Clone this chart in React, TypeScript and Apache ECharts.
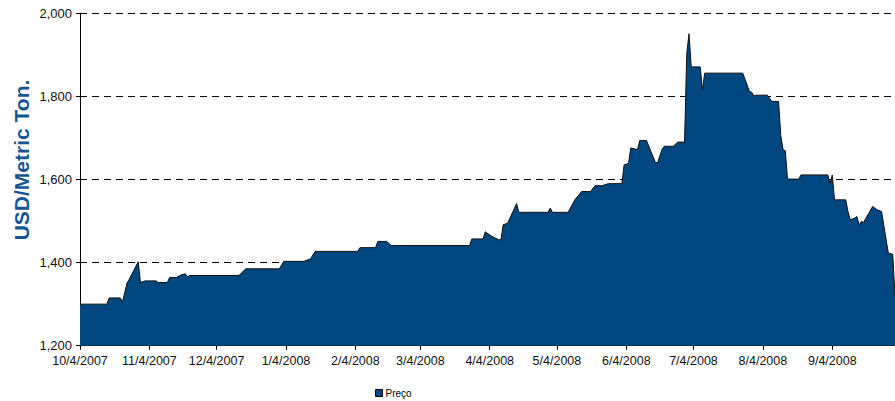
import React, { useEffect, useRef } from "react";
import * as echarts from "echarts";

const dates: string[] = [
  "2007-10-04", "2007-10-16", "2007-10-17", "2007-10-22", "2007-10-23", "2007-10-25", "2007-10-26", "2007-10-30", "2007-10-31",
  "2007-11-02", "2007-11-07", "2007-11-08", "2007-11-12", "2007-11-13", "2007-11-16", "2007-11-18", "2007-11-20", "2007-11-21", "2007-11-22",
  "2007-12-14", "2007-12-17",
  "2008-01-01", "2008-01-03", "2008-01-12", "2008-01-15", "2008-01-17",
  "2008-02-05", "2008-02-06", "2008-02-13", "2008-02-14", "2008-02-18", "2008-02-20",
  "2008-03-26", "2008-03-27",
  "2008-04-01", "2008-04-02", "2008-04-05", "2008-04-08", "2008-04-09", "2008-04-10", "2008-04-12", "2008-04-16", "2008-04-17", "2008-04-30",
  "2008-05-01", "2008-05-02", "2008-05-09", "2008-05-12", "2008-05-15", "2008-05-19", "2008-05-21", "2008-05-24", "2008-05-27",
  "2008-06-02", "2008-06-03", "2008-06-05", "2008-06-06", "2008-06-09", "2008-06-10", "2008-06-13", "2008-06-17", "2008-06-18",
  "2008-06-20", "2008-06-21", "2008-06-25", "2008-06-27", "2008-06-30",
  "2008-07-01", "2008-07-02", "2008-07-03", "2008-07-07", "2008-07-08", "2008-07-09", "2008-07-26", "2008-07-29", "2008-07-30", "2008-07-31",
  "2008-08-01", "2008-08-06", "2008-08-08", "2008-08-11", "2008-08-12", "2008-08-13", "2008-08-14", "2008-08-15", "2008-08-20", "2008-08-21",
  "2008-09-02", "2008-09-03", "2008-09-04", "2008-09-05", "2008-09-10", "2008-09-11", "2008-09-12", "2008-09-14", "2008-09-15",
  "2008-09-16", "2008-09-17", "2008-09-18", "2008-09-22", "2008-09-24", "2008-09-26", "2008-09-29",
  "2008-10-01", "2008-10-02",
];

const prices: number[] = [
  1300, 1300, 1315, 1315, 1306, 1351, 1360, 1402, 1352,
  1356, 1356, 1352, 1352, 1364, 1364, 1370, 1373, 1366, 1369,
  1369, 1385,
  1385, 1403, 1403, 1409, 1427,
  1427, 1436, 1436, 1451, 1451, 1441,
  1441, 1457,
  1457, 1474, 1463, 1455, 1455, 1491, 1495, 1542, 1521, 1521,
  1531, 1521, 1521, 1551, 1571, 1571, 1585, 1585, 1590,
  1590, 1635, 1639, 1676, 1672, 1694, 1694, 1641, 1641,
  1673, 1680, 1680, 1690, 1690,
  1904, 1951, 1871, 1871, 1816, 1856, 1856, 1812, 1810, 1801,
  1803, 1803, 1788, 1788, 1705, 1672, 1669, 1601, 1601, 1611,
  1611, 1591, 1611, 1551, 1551, 1523, 1503, 1507, 1511,
  1491, 1499, 1497, 1535, 1527, 1523, 1423,
  1420, 1320,
];

const tickDates: string[] = [
  "2007-10-04", "2007-11-04", "2007-12-04", "2008-01-04", "2008-02-04", "2008-03-04",
  "2008-04-04", "2008-05-04", "2008-06-04", "2008-07-04", "2008-08-04", "2008-09-04",
];

const axisStart = "2007-10-04";
const axisEnd = "2008-10-02";
const seriesName = "Preço";
const yTitle = "USD/Metric Ton.";
const yMin = 1200;
const yMax = 2000;
const yStep = 200;

const toTs = (s: string) => {
  const [y, m, d] = s.split("-").map(Number);
  return Date.UTC(y, m - 1, d);
};

const fmtDate = (v: number) => {
  const d = new Date(v);
  return `${d.getUTCMonth() + 1}/${d.getUTCDate()}/${d.getUTCFullYear()}`;
};

const FONT = "'Liberation Sans', Arial, Helvetica, sans-serif";
const FILL = "#00467F";

export default function App() {
  const ref = useRef<HTMLDivElement>(null);

  useEffect(() => {
    if (!ref.current) return;
    const chart = echarts.init(ref.current, undefined, { renderer: "svg" });
    const ticks = tickDates.map(toTs);
    chart.setOption({
      animation: false,
      backgroundColor: "#ffffff",
      textStyle: { fontFamily: FONT },
      grid: { left: 80, right: 0, top: 13.3, bottom: 55.3 },
      graphic: [
        {
          type: "text",
          x: 21,
          y: 160,
          rotation: Math.PI / 2,
          style: {
            text: yTitle,
            fontSize: 21,
            fontWeight: "bold",
            fontFamily: FONT,
            fill: "#175592",
            align: "center",
            verticalAlign: "middle",
          },
        },
      ],
      legend: {
        left: 370,
        top: 383,
        icon: "rect",
        itemWidth: 7,
        itemHeight: 7,
        itemGap: 10,
        textStyle: { fontSize: 10, color: "#000", fontFamily: FONT, padding: [0, 0, 0, -2] },
        itemStyle: { color: FILL, borderColor: "#000", borderWidth: 1 },
        data: [{ name: seriesName, icon: "rect" }],
      },
      xAxis: {
        type: "value",
        min: toTs(axisStart),
        max: toTs(axisEnd),
        splitLine: { show: false },
        axisLine: { show: true, lineStyle: { color: "#000", width: 1 } },
        axisTick: {
          show: true,
          length: 4,
          customValues: ticks,
          lineStyle: { color: "#000", width: 1 },
        },
        axisLabel: {
          customValues: ticks,
          formatter: (v: number) => fmtDate(v),
          fontSize: 12.5,
          color: "#111",
          margin: 9,
          hideOverlap: false,
          fontFamily: FONT,
        },
      },
      yAxis: {
        type: "value",
        min: yMin,
        max: yMax,
        interval: yStep,
        axisLine: { show: true, lineStyle: { color: "#000", width: 1 } },
        axisTick: { show: true, length: 4, lineStyle: { color: "#000", width: 1 } },
        axisLabel: {
          formatter: (v: number) => v.toLocaleString("en-US"),
          fontSize: 13,
          color: "#111",
          margin: 8,
          fontFamily: FONT,
        },
        splitLine: {
          show: true,
          lineStyle: { color: "#000", width: 1, type: [7, 5] },
        },
      },
      series: [
        {
          name: seriesName,
          type: "line",
          data: dates.map((d, i) => [toTs(d), prices[i]]),
          symbol: "none",
          lineStyle: { color: "#111", width: 1 },
          itemStyle: { color: FILL, borderColor: "#000", borderWidth: 1 },
          areaStyle: { color: FILL, opacity: 1, origin: "start" },
          z: 3,
        },
      ],
    });
    return () => chart.dispose();
  }, []);

  return (
    <div
      ref={ref}
      style={{ position: "fixed", left: 0, top: 0, width: 895, height: 401 }}
    />
  );
}
